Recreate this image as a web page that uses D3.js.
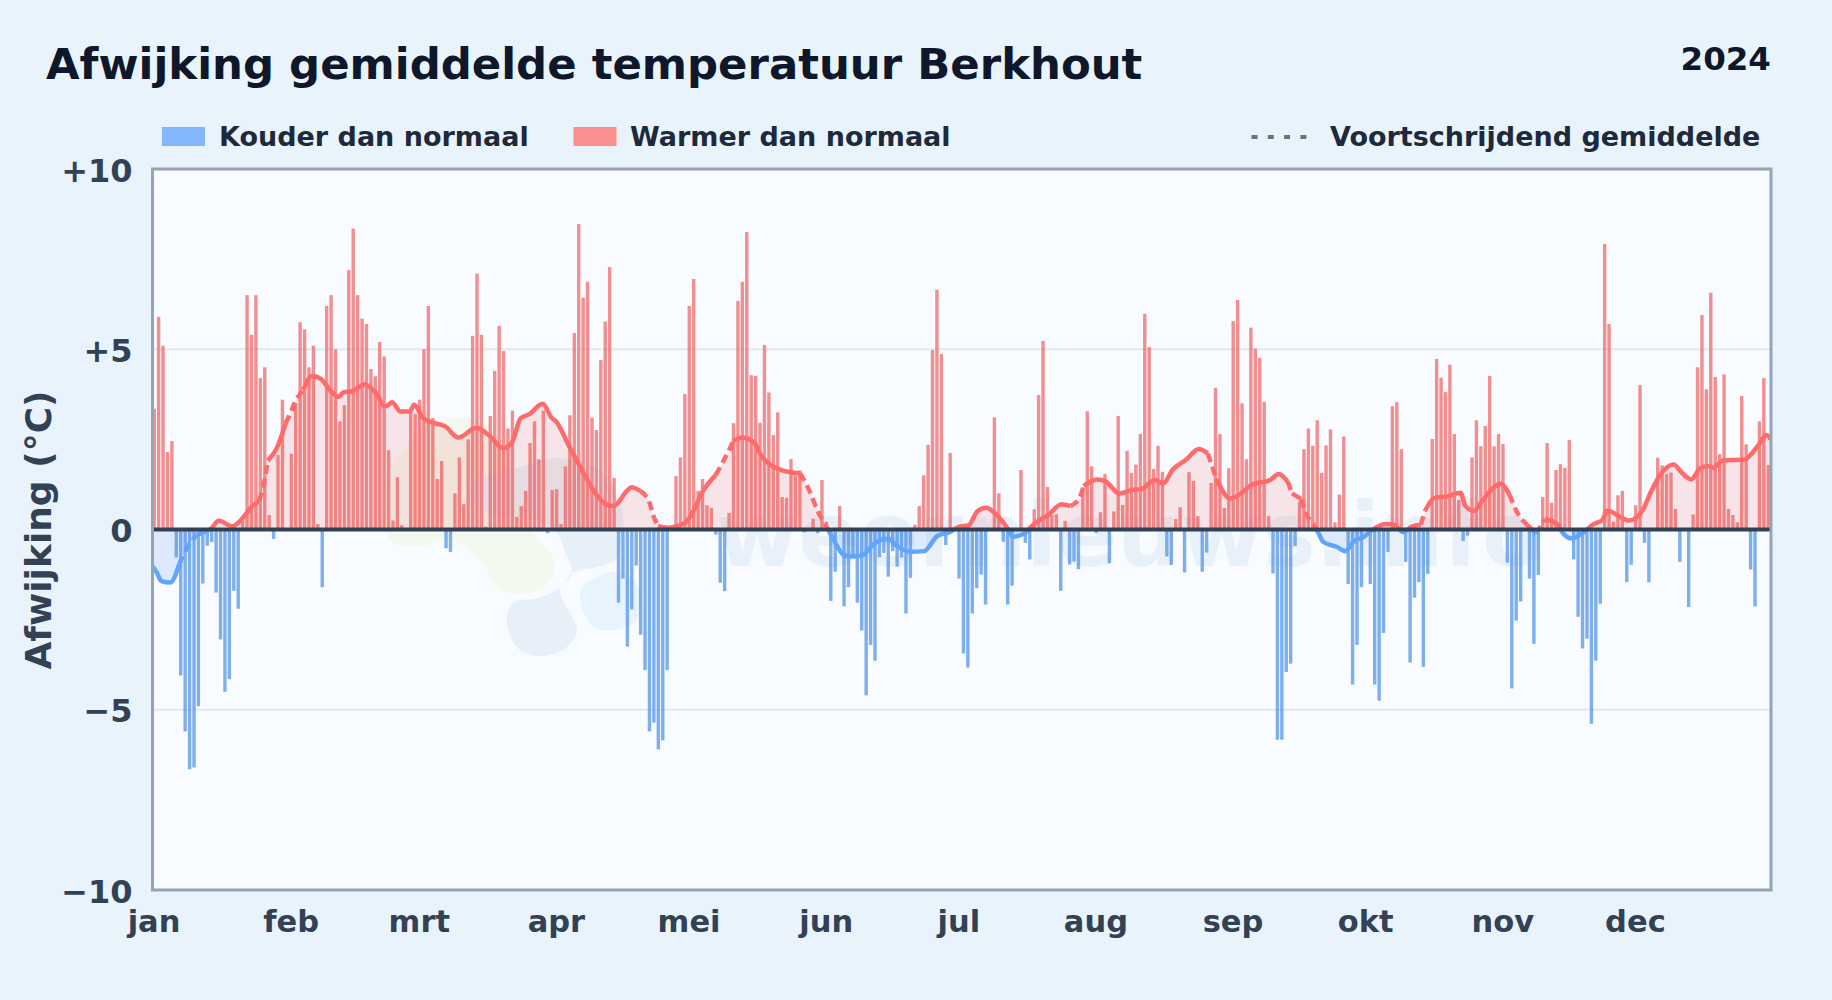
<!DOCTYPE html>
<html>
<head>
<meta charset="utf-8">
<script src="https://cdn.jsdelivr.net/npm/d3@7"></script>
<style>
  html, body { margin: 0; padding: 0; background: #e8f3fc; }
  svg { display: block; }
  text { font-family: "DejaVu Sans", sans-serif; font-weight: 700; }
  .axis path, .axis line { display: none; }
  .axis text { font-family: "DejaVu Sans", sans-serif; fill: #334155; font-weight: 700; }
</style>
</head>
<body>
<div id="chart"></div>
<script>
const jan = [3.35,5.9,5.1,2.15,2.45,-0.78,-4.05,-5.6,-6.65,-6.6,-4.9,-1.5,-0.45,-0.35,-1.75,-3.05,-4.5,-4.15,-1.7,-2.2,0.25,6.5,5.4,6.5,4.2,4.5,0.4,-0.26,2.07,3.6,0];
const feb = [2.1,3.5,5.75,5.55,4.5,5.1,0.15,-1.6,6.2,6.5,5.0,3.0,3.45,7.2,8.35,6.5,5.85,5.7,4.45,4.25,5.2,4.8,2.2,0.25,1.45,0.12,0,3.3,3.2];
const mrt = [3.6,5.0,6.2,3.1,1.4,1.9,-0.52,-0.62,1.0,2.0,0.7,2.5,5.37,7.1,5.4,0.08,3.15,4.4,5.65,4.95,2.8,3.3,0.35,0.65,1.07,2.4,3.0,1.95,3.3,-0.1,1.1];
const apr = [1.12,0.15,1.75,3.17,5.45,8.47,6.43,6.87,3.1,2.76,4.7,5.77,7.28,1.43,-2.03,-1.36,-3.25,-2.22,-1.0,-2.92,-3.9,-5.6,-5.36,-6.1,-5.85,-3.9,0,1.48,2.0,3.76];
const mei = [6.2,6.95,1.07,1.4,0.67,0.6,-0.14,-1.48,-1.71,0.46,2.95,6.34,6.87,8.25,4.28,4.26,2.96,5.12,3.8,2.62,3.25,0.9,0.88,1.95,1.5,1.64,-0.08,0,0.3,-0.1,1.37];
const jun = [0.22,-1.98,-1.17,0.65,-2.13,-1.6,-0.72,-2.03,-2.8,-4.6,-3.2,-3.64,-0.77,-0.65,-1.31,-0.6,-1.03,-0.78,-2.33,-1.34,0.13,0.65,1.5,2.35,4.98,6.65,4.87,-0.43,2.12,0];
const jul = [-1.36,-3.44,-3.83,-2.33,-1.63,-1.25,-2.08,0,3.11,1.0,-0.34,-2.08,-1.56,0,1.65,-0.37,-0.83,0.56,3.73,5.23,1.18,0.4,0.42,-1.7,0.24,-0.97,-0.89,-1.1,1.17,3.28,1.75];
const aug = [-0.1,0.48,1.54,-0.94,0.5,3.15,0.68,2.18,1.57,1.8,2.65,5.98,5.06,1.68,2.32,1.6,-0.75,-0.98,0.29,0.62,-1.19,1.59,1.35,0.37,-1.17,-0.64,1.29,3.93,2.65,0.6,1.7];
const sep = [5.78,6.37,3.5,1.95,5.6,5.02,4.76,3.54,0.37,-1.22,-5.83,-5.83,-3.95,-3.72,-0.46,0.77,2.23,2.8,2.32,3.03,1.57,2.33,2.78,0.2,0.97,2.58,-1.51,-4.3,-3.2,-1.6];
const okt = [0,-1.51,-4.3,-4.75,-2.87,-0.62,3.42,3.53,2.23,-0.9,-3.69,-1.89,-1.46,-3.81,-1.23,2.51,4.73,4.21,3.81,4.57,2.65,0.82,-0.32,-0.17,2.0,3.03,2.31,2.87,4.26,2.31,2.65];
const nov = [2.37,-0.92,-4.41,-2.53,-2.0,0,-1.36,-3.17,-1.26,0.9,2.4,0.74,1.65,1.81,1.71,2.48,-0.83,-2.42,-3.3,-3.03,-5.39,-3.64,-2.06,7.92,5.7,0.22,0.95,1.07,-1.46,-0.98];
const dec = [0.67,4.01,-0.37,-1.46,0,1.99,1.78,1.54,1.58,0.57,-0.9,0,-2.15,0.42,4.5,5.95,3.89,6.57,4.23,2.09,4.3,0.57,0.4,0.2,3.7,2.36,-1.11,-2.13,3.0,4.2,1.79];

// Moving average, read at the corners of the line
const maDays = [0,1,2,4,6,7,8,10,12,13,15,18,20,22,24,25,26,28,30,31,32,34,36,38,40,42,43,45,48,49,51,52,53,54,56,58,59,61,63,66,69,73,76,79,81,83,85,88,90,91,94,97,99,102,104,107,108,110,112,113,114,116,120,122,124,127,130,131,133,136,137,139,142,146,148,150,152,154,156,158,160,163,165,166,168,171,174,177,180,182,184,186,188,190,192,193,194,197,198,200,202,205,207,209,210,213,215,218,221,223,226,228,230,233,236,238,239,240,243,245,248,252,254,256,257,259,260,262,263,264,267,269,271,273,275,278,280,282,284,286,287,289,292,295,296,298,300,304,306,308,310,312,314,317,318,320,323,325,327,328,333,336,338,340,343,345,347,349,351,352,354,359,362,364,365];
const maValues = [-1.03,-1.2,-1.43,-1.47,-0.97,-0.7,-0.47,-0.16,-0.05,0,0.24,0.09,0.27,0.58,0.79,1.2,1.91,2.25,2.94,3.2,3.5,3.87,4.26,4.18,3.87,3.68,3.8,3.84,4.03,3.95,3.68,3.43,3.44,3.53,3.27,3.27,3.46,3.1,2.97,2.86,2.55,2.82,2.6,2.26,2.4,3.08,3.2,3.49,3.1,3.0,2.3,1.61,1.17,0.72,0.65,1.07,1.17,1.07,0.77,0.37,0.1,0.05,0.18,0.52,1.04,1.51,2.2,2.45,2.55,2.37,2.1,1.83,1.64,1.56,1.12,0.52,0.08,-0.37,-0.72,-0.75,-0.72,-0.37,-0.27,-0.27,-0.47,-0.62,-0.6,-0.18,-0.06,0.08,0.11,0.5,0.6,0.45,0.17,0,-0.2,-0.08,0.06,0.26,0.4,0.7,0.65,0.86,1.21,1.39,1.33,1.0,1.1,1.12,1.37,1.28,1.65,1.93,2.23,2.11,1.74,1.4,0.86,0.96,1.25,1.37,1.54,1.33,1.0,0.85,0.49,0.12,-0.11,-0.34,-0.48,-0.6,-0.32,-0.22,-0.02,0.15,0.13,-0.07,0.08,0.13,0.52,0.87,0.92,1.02,0.67,0.52,0.82,1.27,0.97,0.42,0.13,-0.12,0.29,0.13,-0.09,-0.25,-0.05,0.15,0.27,0.52,0.25,0.52,1.07,1.51,1.8,1.56,1.39,1.69,1.76,1.71,1.91,1.94,2.31,2.62,2.5];

// Stretches of the line that are drawn broken in the source
const dashedRuns = [[6,10],[24,26],[30,33],[111,114],[127,131],[146,152],[208,210],[238,240],[256,257],[259,262],[286,287],[306,310],[312,314]];

const monthStarts = [0,31,60,91,121,152,182,213,244,274,305,335];
const monthLabels = ['jan','feb','mrt','apr','mei','jun','jul','aug','sep','okt','nov','dec'];
const yTicks = [-10,-5,0,5,10];
const yTickLabels = ['\u221210','\u22125','0','+5','+10'];

const dailyValues = [].concat(jan, feb, mrt, apr, mei, jun, jul, aug, sep, okt, nov, dec);

const W = 1832, H = 1000;
const plot = { left: 152.5, right: 1771, top: 169, bottom: 890 };

const svg = d3.select('#chart').append('svg').attr('width', W).attr('height', H);

// Scales: bars fill day slots, the average runs edge to edge
const x = d3.scaleLinear().domain([0, 366]).range([plot.left, plot.right]);
const xLine = d3.scaleLinear().domain([0, 365]).range([plot.left, plot.right]);
const y = d3.scaleLinear().domain([-10, 10]).range([plot.bottom, plot.top]);

svg.append('rect').attr('width', W).attr('height', H).attr('fill', '#e8f3fc');
svg.append('rect')
    .attr('x', plot.left).attr('y', plot.top)
    .attr('width', plot.right - plot.left).attr('height', plot.bottom - plot.top)
    .attr('fill', '#f8fbff');

// Clipping for the two signs
const defs = svg.append('defs');
const addClip = (id, top, bottom) => defs.append('clipPath').attr('id', id).append('rect')
    .attr('x', plot.left).attr('y', top)
    .attr('width', plot.right - plot.left).attr('height', bottom - top);
addClip('clip-plot', plot.top, plot.bottom);
addClip('clip-warm', plot.top, y(0));
addClip('clip-cold', y(0), plot.bottom);

// Grid
svg.append('g').selectAll('line')
    .data([-5, 5])
    .join('line')
    .attr('x1', plot.left).attr('x2', plot.right)
    .attr('y1', d => y(d)).attr('y2', d => y(d))
    .attr('stroke', '#e2e8f0').attr('stroke-width', 2);

// Watermark: logo blobs and site name
const wm = svg.append('g').attr('clip-path', 'url(#clip-plot)');
const blob = d3.line().curve(d3.curveCatmullRomClosed.alpha(0.5));
wm.append('path')
    .attr('d', blob([[385,530],[392,470],[430,425],[470,418],[500,440],[512,500],[535,535],[555,562],[547,584],[517,594],[497,587],[480,560],[450,540],[420,547],[392,542]]))
    .attr('fill', '#f4f9f0');
wm.append('path')
    .attr('d', blob([[507,623],[513,603],[537,598],[560,588],[572,573],[597,567],[617,558],[622,510],[600,470],[560,458],[510,470],[470,485],[480,510],[535,520],[557,533],[565,552],[572,573],[560,590],[577,630],[567,647],[543,656],[520,650]]))
    .attr('fill', '#e7f0f8');
wm.append('path')
    .attr('d', blob([[580,593],[597,577],[623,573],[640,590],[637,620],[613,630],[593,627]]))
    .attr('fill', '#e7f4fd');
wm.append('text')
    .attr('x', 716).attr('y', 566)
    .attr('font-size', 89)
    .attr('fill', '#e8f1fa')
    .text('weernieuws.info');

// Daily bars
svg.append('g').attr('clip-path', 'url(#clip-plot)')
    .selectAll('rect')
    .data(dailyValues.map((v, i) => ({ day: i, value: v })).filter(d => d.value !== 0))
    .join('rect')
    .attr('x', d => x(d.day))
    .attr('width', 3.4)
    .attr('y', d => Math.min(y(d.value), y(0)))
    .attr('height', d => Math.abs(y(d.value) - y(0)))
    .attr('fill', d => d.value > 0 ? '#ee5f5f' : '#4a8fe6')
    .attr('fill-opacity', 0.7);

// Moving average, split in solid and broken stretches
const maPoints = maDays.map((d, i) => ({ day: d, value: maValues[i] }));
const isDashed = (a, b) => {
    const mid = (a.day + b.day) / 2;
    return dashedRuns.some(r => mid >= r[0] && mid <= r[1]);
};
const runs = [];
for (let i = 1; i < maPoints.length; i++) {
    const dashed = isDashed(maPoints[i - 1], maPoints[i]);
    const last = runs[runs.length - 1];
    if (last && last.dashed === dashed) {
        last.points.push(maPoints[i]);
    } else {
        runs.push({ dashed: dashed, points: [maPoints[i - 1], maPoints[i]] });
    }
}

const maLine = d3.line().curve(d3.curveMonotoneX).x(d => xLine(d.day)).y(d => y(d.value));
const maArea = d3.area().curve(d3.curveMonotoneX).x(d => xLine(d.day)).y0(y(0)).y1(d => y(d.value));

[['clip-warm', '#ef4444', '#ff6b6b', 0.12], ['clip-cold', '#3b82f6', '#60a5fa', 0.14]].forEach(([clip, fill, stroke, alpha]) => {
    const g = svg.append('g').attr('clip-path', `url(#${clip})`);
    g.append('path').datum(maPoints).attr('d', maArea).attr('fill', fill).attr('fill-opacity', alpha);
    g.selectAll('path.ma')
        .data(runs)
        .join('path')
        .attr('class', 'ma')
        .attr('d', d => maLine(d.points))
        .attr('fill', 'none')
        .attr('stroke', stroke)
        .attr('stroke-width', 4.5)
        .attr('stroke-linejoin', 'round')
        .attr('stroke-dasharray', d => d.dashed ? '9 5' : null);
});

// Zero line and frame
svg.append('line')
    .attr('x1', plot.left).attr('x2', plot.right)
    .attr('y1', y(0)).attr('y2', y(0))
    .attr('stroke', '#334155').attr('stroke-width', 4);
svg.append('rect')
    .attr('x', plot.left).attr('y', plot.top)
    .attr('width', plot.right - plot.left).attr('height', plot.bottom - plot.top)
    .attr('fill', 'none').attr('stroke', '#94a3b8').attr('stroke-width', 3);

// Axes
svg.append('g')
    .attr('class', 'axis')
    .attr('transform', `translate(${plot.left},0)`)
    .call(d3.axisLeft(y).tickValues(yTicks).tickSize(0).tickPadding(20)
        .tickFormat((d, i) => yTickLabels[i]))
    .call(g => g.selectAll('text').attr('font-size', 32).attr('dy', '0.38em'));

svg.append('g')
    .attr('class', 'axis')
    .attr('transform', `translate(1,${plot.bottom})`)
    .call(d3.axisBottom(x).tickValues(monthStarts).tickSize(0).tickPadding(20)
        .tickFormat((d, i) => monthLabels[i]))
    .call(g => g.selectAll('text').attr('font-size', 30.5));

// Titles
svg.append('text').attr('x', 46).attr('y', 79)
    .attr('font-size', 43.4).attr('fill', '#0f172a')
    .text('Afwijking gemiddelde temperatuur Berkhout');
svg.append('text').attr('x', 1771).attr('y', 70).attr('text-anchor', 'end')
    .attr('font-size', 32.5).attr('fill', '#0f172a')
    .text('2024');
svg.append('text')
    .attr('transform', 'translate(51,530) rotate(-90)')
    .attr('text-anchor', 'middle')
    .attr('font-size', 36).attr('fill', '#334155')
    .text('Afwijking (\u00b0C)');

// Legend
const legendItems = [
    { label: 'Kouder dan normaal', swatch: '#84b6fb', swatchX: 162, textX: 219 },
    { label: 'Warmer dan normaal', swatch: '#f98f8f', swatchX: 573.5, textX: 630 }
];
legendItems.forEach(item => {
    svg.append('rect').attr('x', item.swatchX).attr('y', 127).attr('width', 43).attr('height', 19).attr('fill', item.swatch);
    svg.append('text').attr('x', item.textX).attr('y', 146)
        .attr('font-size', 27).attr('fill', '#1e293b').text(item.label);
});
svg.append('line')
    .attr('x1', 1251.5).attr('x2', 1308).attr('y1', 137).attr('y2', 137)
    .attr('stroke', '#64748b').attr('stroke-width', 4).attr('stroke-dasharray', '6 10.3');
svg.append('text').attr('x', 1330).attr('y', 146)
    .attr('font-size', 27).attr('fill', '#1e293b').text('Voortschrijdend gemiddelde');
</script>
</body>
</html>
